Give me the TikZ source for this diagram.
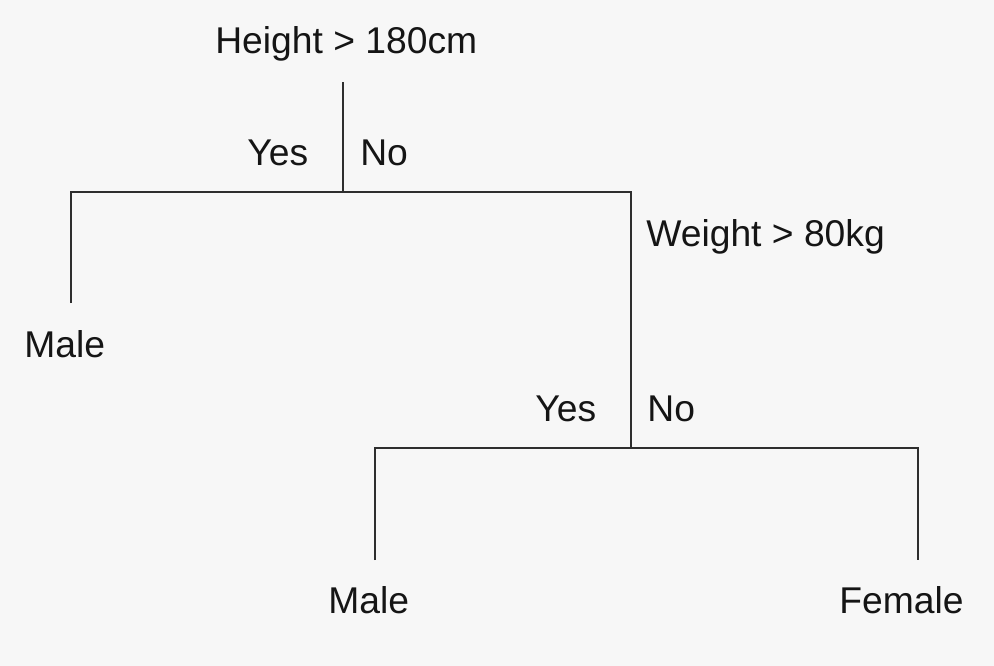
\documentclass[tikz,border=0pt]{standalone}
\usepackage{fontspec}
\setmainfont{Liberation Sans}
\definecolor{bg}{HTML}{F7F7F7}
\definecolor{ln}{HTML}{2E2E2E}
\definecolor{tx}{HTML}{151515}
\begin{document}
\begin{tikzpicture}[x=0.02cm,y=-0.02cm,
  lbl/.style={anchor=base west,inner sep=0pt,text=tx,font=\fontsize{21.2pt}{25pt}\selectfont},
  edge/.style={draw=ln,line width=1.2pt}]
\fill[bg] (0,0) rectangle (994,666);
\useasboundingbox (0,0) rectangle (994,666);
% labels
\node[lbl] (root) at (215,53) {Height > 180cm};
\node[lbl] (yes1) at (247,165) {Yes};
\node[lbl] (no1) at (360,165) {No};
\node[lbl] (male1) at (24,357) {Male};
\node[lbl] (weight) at (646,246) {Weight > 80kg};
\node[lbl] (yes2) at (535,421) {Yes};
\node[lbl] (no2) at (647,421) {No};
\node[lbl] (male2) at (328,613) {Male};
\node[lbl] (female) at (839,613) {Female};
% junction coordinates
\coordinate (rtop) at (343,82);
\coordinate (rj) at (343,192);
\coordinate (hl) at (71,192);
\coordinate (hr) at (631,192);
\coordinate (lend) at (71,303);
\coordinate (wj) at (631,448);
\coordinate (h2l) at (375,448);
\coordinate (h2r) at (918,448);
\coordinate (m2end) at (375,560);
\coordinate (fend) at (918,560);
% connectors
\draw[edge] (rtop) -- (rj);
\draw[edge] (lend) -- (hl) -- (hr) -- (wj);
\draw[edge] (m2end) -- (h2l) -- (h2r) -- (fend);
\end{tikzpicture}
\end{document}
